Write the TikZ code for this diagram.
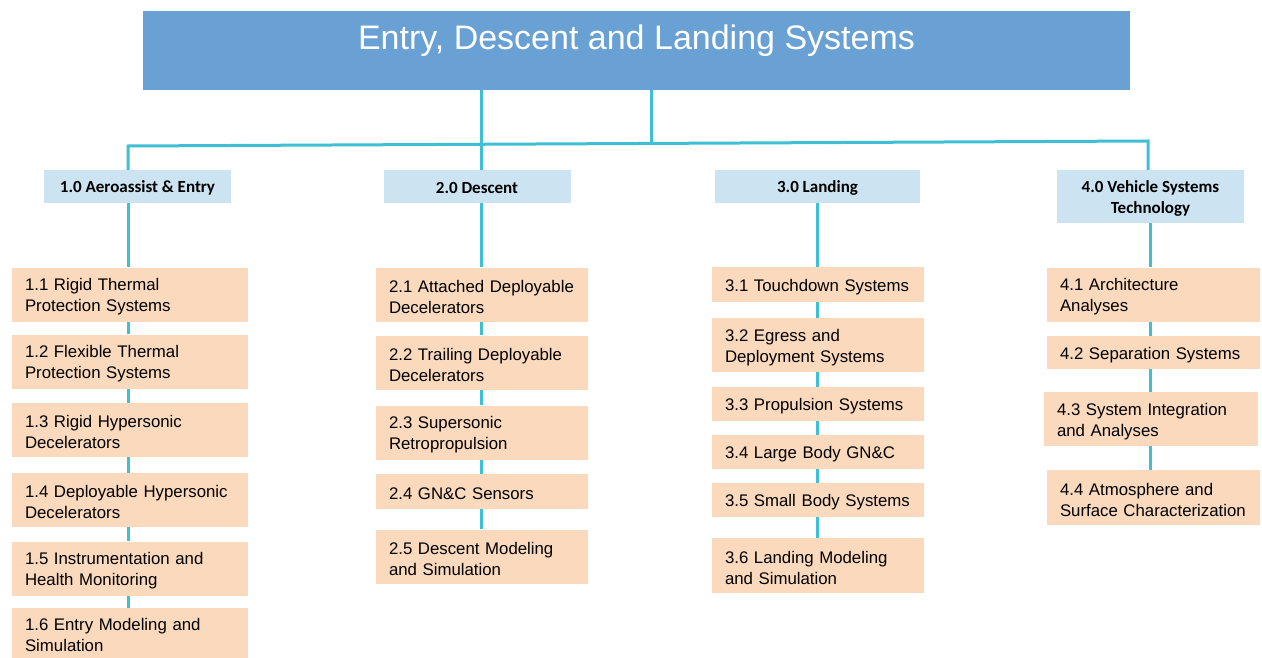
\documentclass[tikz,border=0pt]{standalone}
\usepackage{fontspec}
\setmainfont{Liberation Sans}
\newfontfamily\calfont{Carlito}
\usepackage{tikz}

\definecolor{titleblue}{HTML}{6AA1D5}
\definecolor{headblue}{HTML}{CCE3F1}
\definecolor{peach}{HTML}{FAD9BD}
\definecolor{linkteal}{HTML}{3FBFD3}

\begin{document}
\begin{tikzpicture}[x=1pt,y=-1pt,
  link/.style={draw=linkteal,line width=3pt,line join=miter},
  head/.style={fill=headblue,minimum width=187pt,minimum height=33pt,inner sep=0pt,
    text height=15pt,align=center,font=\calfont\bfseries\fontsize{17}{21}\selectfont},
  item/.style={fill=peach,text width=#1,inner xsep=13pt,inner ysep=0pt,text height=17pt,
    minimum height=54pt,align=left,font=\fontsize{16.8}{21}\selectfont},
  item/.default=186pt]
  \useasboundingbox (0,0) rectangle (1262,658);

  \node[fill=titleblue,minimum width=987pt,inner sep=0pt,text height=39pt,text depth=40pt,
    text=white,font=\fontsize{34}{40}\selectfont] (top) at (636.5,50.5) {Entry, Descent and Landing Systems};

  \node[head] (a10) at (137.5,186.5) {1.0 Aeroassist \& Entry};
  \node[head] (d20) at (477,186.5) {2.0 Descent};
  \node[head,minimum width=205pt] (l30) at (817.5,186.5) {3.0 Landing};
  \node[head,minimum height=53pt,text height=36pt] (v40) at (1150.5,196.5) {4.0 Vehicle Systems\\Technology};

  \node[item=210pt] (a11) at (130,294.5) {1.1 Rigid Thermal\\Protection Systems};
  \node[item=210pt] (a12) at (130,361.5) {1.2 Flexible Thermal\\Protection Systems};
  \node[item=210pt] (a13) at (130,430) {1.3 Rigid Hypersonic\\Decelerators};
  \node[item=210pt] (a14) at (130,500) {1.4 Deployable Hypersonic\\Decelerators};
  \node[item=210pt] (a15) at (130,568.5) {1.5 Instrumentation and\\Health Monitoring};
  \node[item=210pt,minimum height=50pt] (a16) at (130,633) {1.6 Entry Modeling and\\Simulation};

  \node[item] (d21) at (482,294.5) {2.1 Attached Deployable\\Decelerators};
  \node[item] (d22) at (482,362.5) {2.2 Trailing Deployable\\Decelerators};
  \node[item] (d23) at (482,432.5) {2.3 Supersonic\\Retropropulsion};
  \node[item,minimum height=35pt] (d24) at (482,491.5) {2.4 GN\&C Sensors};
  \node[item] (d25) at (482,556.5) {2.5 Descent Modeling\\and Simulation};

  \node[item,minimum height=35pt] (l31) at (818,284.5) {3.1 Touchdown Systems};
  \node[item] (l32) at (818,345) {3.2 Egress and\\Deployment Systems};
  \node[item,minimum height=34pt] (l33) at (818,404) {3.3 Propulsion Systems};
  \node[item,minimum height=34pt] (l34) at (818,452) {3.4 Large Body GN\&C};
  \node[item,minimum height=34pt] (l35) at (818,500) {3.5 Small Body Systems};
  \node[item,minimum height=55pt] (l36) at (818,565.5) {3.6 Landing Modeling\\and Simulation};

  \node[item=187pt] (v41) at (1153.5,294.5) {4.1 Architecture\\Analyses};
  \node[item=187pt,minimum height=33pt] (v42) at (1153.5,352.5) {4.2 Separation Systems};
  \node[item=188pt] (v43) at (1151,419) {4.3 System Integration\\and Analyses};
  \node[item=187pt,minimum height=55pt] (v44) at (1153.5,497.5) {4.4 Atmosphere and\\Surface Characterization};

  \coordinate (j1) at (128,146);
  \coordinate (j2) at (481,143.5);
  \coordinate (j3) at (651,142);
  \coordinate (j4) at (1148,141);
  \coordinate (s3) at (817,0);
  \coordinate (s4) at (1150,0);

  \draw[link] (a10.north -| j1) -- (j1) -- (j4) -- (v40.north -| j4);
  \draw[link] (top.south -| j2) -- (d20.north -| j2);
  \draw[link] (top.south -| j3) -- (j3);

  \foreach \u/\v in {a10/a11,a11/a12,a12/a13,a13/a14,a14/a15,a15/a16}
    \draw[link] (\u.south -| j1) -- (\v.north -| j1);
  \foreach \u/\v in {d20/d21,d21/d22,d22/d23,d23/d24,d24/d25}
    \draw[link] (\u.south -| j2) -- (\v.north -| j2);
  \foreach \u/\v in {l30/l31,l31/l32,l32/l33,l33/l34,l34/l35,l35/l36}
    \draw[link] (\u.south -| s3) -- (\v.north -| s3);
  \foreach \u/\v in {v40/v41,v41/v42,v42/v43,v43/v44}
    \draw[link] (\u.south -| s4) -- (\v.north -| s4);
\end{tikzpicture}
\end{document}
